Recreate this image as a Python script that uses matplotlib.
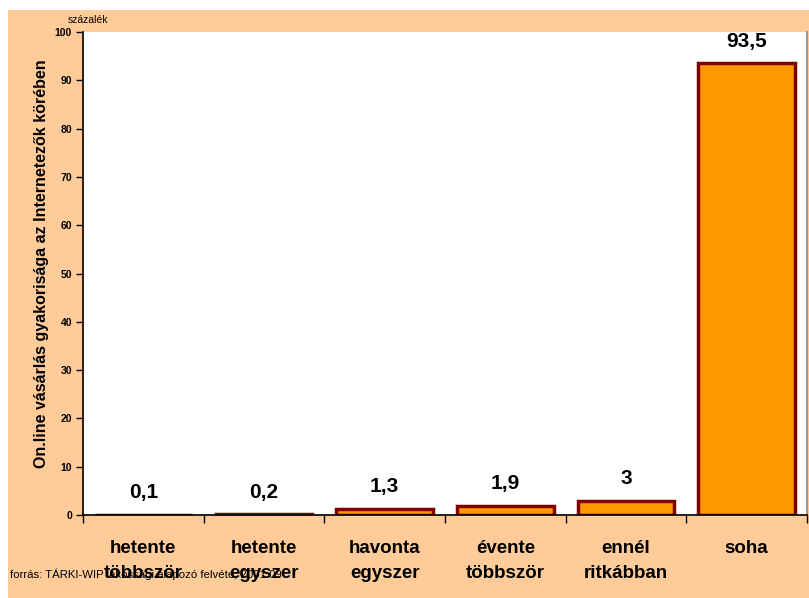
import matplotlib.pyplot as plt
from matplotlib.patches import Rectangle
import numpy as np

plt.rcParams['font.family'] = ['Liberation Sans', 'DejaVu Sans']

# data
categories = ['hetente\ntöbbször', 'hetente\negyszer', 'havonta\negyszer',
              'évente\ntöbbször', 'ennél\nritkábban', 'soha']
values = [0.1, 0.2, 1.3, 1.9, 3, 93.5]
value_labels = ['0,1', '0,2', '1,3', '1,9', '3', '93,5']
y_ticks = [0, 10, 20, 30, 40, 50, 60, 70, 80, 90, 100]

fig = plt.figure(figsize=(8.09, 5.98), dpi=100)
fig.patch.set_facecolor('white')
# peach chart area, behind the axes
fig.patches.append(Rectangle((8 / 809, 0), 1, 1 - 10 / 598, transform=fig.transFigure,
                             facecolor='#FFCC99', edgecolor='none', zorder=-10))

ax = fig.add_axes([83 / 809, 1 - 515 / 598, (807 - 83) / 809, (515 - 32) / 598])
ax.set_facecolor('white')

x = np.arange(len(categories))
bars = ax.bar(x, values, width=0.8, color='#FF9900', edgecolor='#800000', linewidth=2.5)

for b, lab in zip(bars, value_labels):
    ax.annotate(lab, (b.get_x() + b.get_width() / 2, b.get_height()),
                xytext=(0, 9), textcoords='offset points', ha='center', va='bottom',
                fontsize=15, fontweight='bold')

ax.set_xlim(-0.5, len(categories) - 0.5)
ax.set_ylim(0, 100)
ax.set_yticks(y_ticks)
ax.set_yticklabels([str(t) for t in y_ticks], fontsize=7.5, fontweight='bold')
ax.tick_params(axis='y', length=5, width=1, pad=3)

# category boundaries as ticks
ax.set_xticks(np.arange(len(categories) + 1) - 0.5)
ax.set_xticklabels([])
ax.tick_params(axis='x', length=6, width=1, direction='out')
ax.set_xticks(x, minor=True)
ax.set_xticklabels(categories, minor=True, fontsize=13.5, fontweight='bold', linespacing=1.6)
ax.tick_params(axis='x', which='minor', length=0, pad=18)

ax.spines['top'].set_visible(False)
ax.spines['right'].set_color('#999999')
ax.spines['right'].set_linewidth(1.5)
ax.spines['left'].set_linewidth(1.2)
ax.spines['bottom'].set_linewidth(1.2)

ax.set_ylabel('On.line vásárlás gyakorisága az Internetezők körében',
              fontsize=11.5, fontweight='bold')
ax.yaxis.set_label_coords(-0.047, 0.52)

fig.text(68 / 809, 1 - 20 / 598, 'százalék', fontsize=7.5, va='center', ha='left')
fig.text(10 / 809, 1 - 574 / 598, 'forrás: TÁRKI-WIP lakossági alapozó felvéte, 2001.09',
         fontsize=8.2, va='center', ha='left')

fig.savefig('out.png', dpi=100)
